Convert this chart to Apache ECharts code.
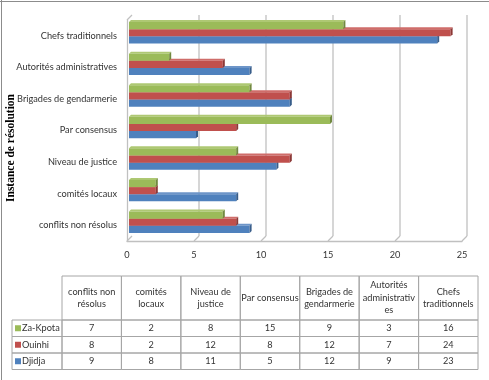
<!DOCTYPE html>
<html><head><meta charset="utf-8">
<script src="https://cdn.jsdelivr.net/npm/echarts@6/dist/echarts.min.js"></script>
<style>html,body{margin:0;padding:0;background:#fff}#c{width:489px;height:380px}</style>
</head><body><div id="c"></div>
<script>
const categories = ['conflits non résolus','comités locaux','Niveau de justice','Par consensus','Brigades de gendarmerie','Autorités administratives','Chefs traditionnels'];
const tableHeaders = ['conflits non\nrésolus','comités\nlocaux','Niveau de\njustice','Par consensus','Brigades de\ngendarmerie','Autorités\nadministrativ\nes','Chefs\ntraditionnels'];
const djidja = [9,8,11,5,12,9,23];
const ouinhi = [8,2,12,8,12,7,24];
const zaKpota = [7,2,8,15,9,3,16];
const xTicks = [0,5,10,15,20,25];
const seriesNames = ['Djidja','Ouinhi','Za-Kpota'];
const seriesData = [djidja, ouinhi, zaKpota];
const axisTitle = 'Instance de résolution';

const colors = ['#4F81BD','#C0504D','#9BBB59'];
const capColors = ['#385D8A','#8C3836','#71893F'];
const topColors = ['#6d95c8','#cf6d6a','#aec873'];
const FONT = 'Lato, "Noto Sans", sans-serif';
const FS = 9.2;
const TXT = '#333333';
const GRIDC = '#c0c0c0';

function barRenderer(k){
  return function(params, api){
    const v = api.value(0), i = api.value(1);
    const p0 = api.coord([0,i]), p1 = api.coord([v,i]);
    const band = api.size([0,1])[1];
    const t = band*0.226, d = 2, sh = 2;
    const x0 = p0[0]+sh, x1 = p1[0]+sh;
    const y = p0[1] - 3 - 1.5*t + (2-k)*t;
    return {type:'group', children:[
      {type:'polygon', shape:{points:[[x0,y],[x0+d,y-d],[x1+d,y-d],[x1,y]]}, style:{fill:topColors[k]}},
      {type:'rect', shape:{x:x0,y:y,width:x1-x0,height:t}, style:{fill:colors[k]}},
      {type:'polygon', shape:{points:[[x1,y],[x1+d,y-d],[x1+d,y+t-d],[x1,y+t]]}, style:{fill:capColors[k]}}
    ]};
  };
}
function wallRenderer(params, api){
  const v = api.value(0);
  const band = api.size([0,1])[1];
  const pb = api.coord([v,0]), pt = api.coord([v,categories.length-1]);
  const x = pb[0], yB = pb[1]+band/2, yT = pt[1]-band/2;
  const o = 5;
  const st = {stroke:GRIDC, lineWidth:1.3};
  const ch = [{type:'line', shape:{x1:x,y1:yB,x2:x+o,y2:yB-o}, style:st}];
  if (v === 0) ch.push({type:'line', shape:{x1:x,y1:yT,x2:x+o,y2:yT-o}, style:st});
  else ch.push({type:'line', shape:{x1:x+o,y1:yT-o,x2:x+o,y2:yB-o}, style:st});
  return {type:'group', children:ch};
}

// table graphics
const tbl = {left:62, keyLeft:12, top:276, headH:44, rowH:16.5, colW:59.43};
const g = [];
const BORDER = '#a6a6a6';
tableHeaders.forEach((h,j)=>{
  const x = tbl.left + j*tbl.colW;
  g.push({type:'rect', shape:{x:x, y:tbl.top, width:tbl.colW, height:tbl.headH}, style:{fill:'none', stroke:BORDER, lineWidth:1}});
  g.push({type:'text', x:x+tbl.colW/2, y:tbl.top+tbl.headH/2, style:{text:h, fontSize:FS, fontFamily:FONT, fill:TXT, align:'center', verticalAlign:'middle', lineHeight:12.5}});
});
[2,1,0].forEach((k,r)=>{
  const y = tbl.top + tbl.headH + r*tbl.rowH;
  g.push({type:'rect', shape:{x:tbl.keyLeft, y:y, width:tbl.left-tbl.keyLeft, height:tbl.rowH}, style:{fill:'none', stroke:BORDER, lineWidth:1}});
  g.push({type:'rect', shape:{x:tbl.keyLeft+3, y:y+tbl.rowH/2-3, width:6, height:6}, style:{fill:colors[k]}});
  g.push({type:'text', x:tbl.keyLeft+10, y:y+tbl.rowH/2, style:{text:seriesNames[k], fontSize:FS, fontFamily:FONT, fill:TXT, align:'left', verticalAlign:'middle'}});
  seriesData[k].forEach((v,j)=>{
    const x = tbl.left + j*tbl.colW;
    g.push({type:'rect', shape:{x:x, y:y, width:tbl.colW, height:tbl.rowH}, style:{fill:'none', stroke:BORDER, lineWidth:1}});
    g.push({type:'text', x:x+tbl.colW/2, y:y+tbl.rowH/2, style:{text:String(v), fontSize:FS, fontFamily:FONT, fill:TXT, align:'center', verticalAlign:'middle'}});
  });
});
g.push({type:'line', shape:{x1:0,y1:1.5,x2:489,y2:1.5}, style:{stroke:'#8c8c8c', lineWidth:1}});
g.push({type:'line', shape:{x1:1.5,y1:0,x2:1.5,y2:380}, style:{stroke:'#8c8c8c', lineWidth:1}});
g.push({type:'text', x:11, y:148, rotation:Math.PI/2, style:{text:axisTitle, fontSize:11.5, fontWeight:'bold', fontFamily:'"Liberation Serif", "DejaVu Serif", serif', fill:'#000', align:'center', verticalAlign:'middle'}});

const series = [{
  type:'custom', name:'wall', renderItem:wallRenderer, z:1, silent:true,
  data: xTicks.map(v=>[v,0]), encode:{x:0,y:1}
}];
seriesData.forEach((arr,k)=>{
  series.push({type:'custom', name:seriesNames[k], renderItem:barRenderer(k), z:2,
    data: arr.map((v,i)=>[v,i]), encode:{x:0,y:1}});
});

const chart = echarts.init(document.getElementById('c'), null, {renderer:'canvas'});
chart.setOption({
  animation:false,
  backgroundColor:'#fff',
  grid:{left:127, top:20, width:335, height:221},
  xAxis:{type:'value', min:0, max:25, interval:5,
    axisLine:{show:true, lineStyle:{color:GRIDC, width:1.3}}, axisTick:{show:false}, splitLine:{show:false},
    axisLabel:{fontSize:FS, fontFamily:FONT, color:TXT, margin:10}},
  yAxis:{type:'category', data:categories,
    axisLine:{show:true, lineStyle:{color:GRIDC, width:1.3}}, axisTick:{show:false}, splitLine:{show:false},
    axisLabel:{fontSize:FS, fontFamily:FONT, color:TXT, margin:10}},
  series: series,
  graphic: g
});
</script></body></html>
